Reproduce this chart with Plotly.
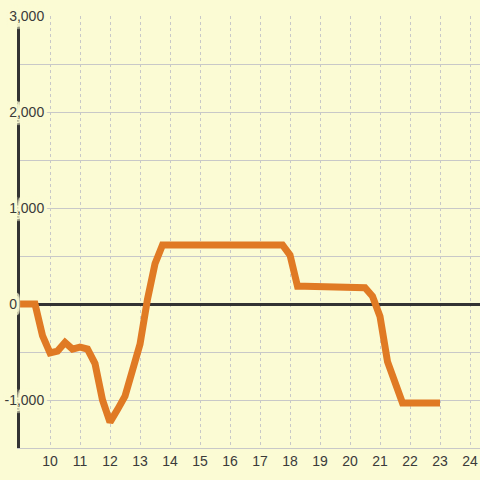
import plotly.graph_objects as go

# data: hour of day vs balance
hours = [9.0, 9.25, 9.5, 9.75, 10.0, 10.25, 10.5, 10.75, 11.0, 11.25, 11.5, 11.75,
         12.0, 12.25, 12.5, 12.75, 13.0, 13.25, 13.5, 13.75, 14.0, 15.0, 16.0, 17.0,
         17.75, 18.0, 18.25, 18.5, 18.75, 19.0, 19.25, 19.5, 20.0, 20.5, 20.75, 21.0,
         21.25, 21.5, 21.75, 22.0, 22.5, 23.0]
values = [0, 0, 0, -330, -510, -490, -400, -470, -450, -470, -620, -1000,
          -1230, -1100, -960, -690, -420, 50, 420, 615, 615, 615, 615, 615,
          615, 510, 185, 185, 185, 180, 170, 170, 170, 170, 80, -130,
          -600, -830, -1030, -1030, -1030, -1030]

x_ticks = [10, 11, 12, 13, 14, 15, 16, 17, 18, 19, 20, 21, 22, 23, 24]
x_tick_labels = [str(v) for v in x_ticks]
y_ticks = [-1000, 0, 1000, 2000, 3000]
y_tick_labels = ["-1,000", "0" + "\u00a0" * 7, "1,000", "2,000", "3,000"]

BG = "#FBFBD4"
TXT = "#3a3a3a"
GRID = "#c8c8c8"

shadow = ", ".join(f"{dx}px {dy}px 1px {BG}" for dx in (-3, -1.5, 0, 1.5, 3) for dy in (-6, -3, 0, 3, 6))

fig = go.Figure()
fig.add_trace(go.Scatter(
    x=hours, y=values, mode="lines",
    line=dict(color="#E07A24", width=7),
    hoverinfo="skip",
))

fig.update_layout(
    width=480, height=480,
    margin=dict(l=20, r=0, t=16, b=32, autoexpand=False),
    paper_bgcolor=BG, plot_bgcolor=BG,
    showlegend=False,
    font=dict(family="Liberation Sans, Arial, sans-serif", size=14, color=TXT),
)
fig.update_xaxes(
    range=[9, 9 + 460 / 30],
    tickvals=x_ticks, ticktext=x_tick_labels,
    showgrid=True, gridcolor=GRID, gridwidth=1, griddash="3px,3px",
    zeroline=False, showline=True, linecolor=GRID, linewidth=1,
    ticks="", automargin=False,
)
fig.update_yaxes(
    range=[-1500, 3000],
    tickvals=y_ticks, ticktext=y_tick_labels,
    showgrid=True, gridcolor=GRID, gridwidth=1,
    minor=dict(dtick=500, tick0=0, showgrid=True, gridcolor=GRID, gridwidth=1),
    zeroline=True, zerolinecolor="#333333", zerolinewidth=3,
    showline=True, linecolor="#333333", linewidth=3,
    ticks="", automargin=False, ticklabelstandoff=-30,
    tickfont=dict(shadow=shadow),
)

fig.write_html(
    "out.html",
    config={"displayModeBar": False},
    post_script="document.body.style.margin='0px';document.body.style.background='" + BG + "';",
)
